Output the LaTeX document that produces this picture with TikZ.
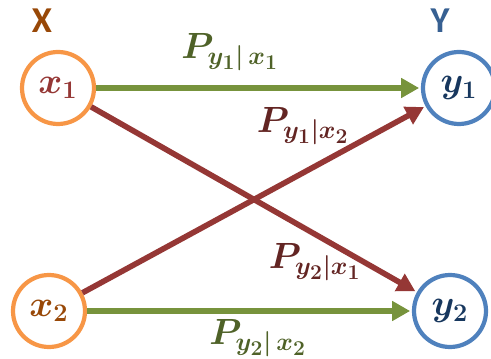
\documentclass[tikz,border=0pt]{standalone}
\usepackage{amsmath,amssymb,bm}
\usepackage{fontspec}
\usepackage{xcolor}
\usepackage{tikz}
\usetikzlibrary{arrows.meta}
\newfontfamily\lblfont{Carlito}
\definecolor{xring}{HTML}{F79646}
\definecolor{yring}{HTML}{4F81BD}
\definecolor{grn}{HTML}{77933C}
\definecolor{grntxt}{HTML}{4F6228}
\definecolor{red}{HTML}{953735}
\definecolor{redtxt}{HTML}{632523}
\definecolor{xtxt}{HTML}{984807}
\definecolor{ytxt}{HTML}{17375E}
\definecolor{ylbl}{HTML}{376092}
\tikzset{
  st/.style={circle,line width=2.4pt,fill=white,minimum size=14.4mm,inner sep=0pt,font=\huge},
  gar/.style={-{Triangle[length=3.6mm,width=3.8mm]},line width=3pt,grn,shorten >=1pt},
  rar/.style={-{Triangle[length=3.6mm,width=3.8mm]},line width=3.2pt,red,shorten >=1pt},
  pl/.style={font=\huge}
}
\begin{document}
\begin{tikzpicture}
\useasboundingbox (0,0) rectangle (9.82,7.16);
% states
\node[st,draw=xring,text=red]   (x1) at (1.16,5.40) {$\bm{x_1}$};
\node[st,draw=xring,text=xtxt]  (x2) at (0.98,0.94) {$\bm{x_2}$};
\node[st,draw=yring,text=ytxt]  (y1) at (9.18,5.40) {$\bm{y_1}$};
\node[st,draw=yring,text=ytxt]  (y2) at (9.00,0.94) {$\bm{y_2}$};
\node[font=\lblfont\bfseries\huge,xtxt] (lx) at (0.84,6.74) {X};
\node[font=\lblfont\bfseries\huge,ylbl] (ly) at (8.80,6.74) {Y};
% transitions
\draw[rar] (x1) -- (y2);
\draw[rar] (x2) -- (y1);
\draw[gar] (x1) -- (y1);
\draw[gar] (x2) -- (y2);
\node[pl,grntxt] (p11) at (4.60,6.12) {$\bm{P_{y_1|\,x_1}}$};
\node[pl,redtxt] (p12) at (6.06,4.64) {$\bm{P_{y_1|x_2}}$};
\node[pl,redtxt] (p21) at (6.30,1.92) {$\bm{P_{y_2|x_1}}$};
\node[pl,grntxt] (p22) at (5.16,0.40) {$\bm{P_{y_2|\,x_2}}$};
\end{tikzpicture}
\end{document}
